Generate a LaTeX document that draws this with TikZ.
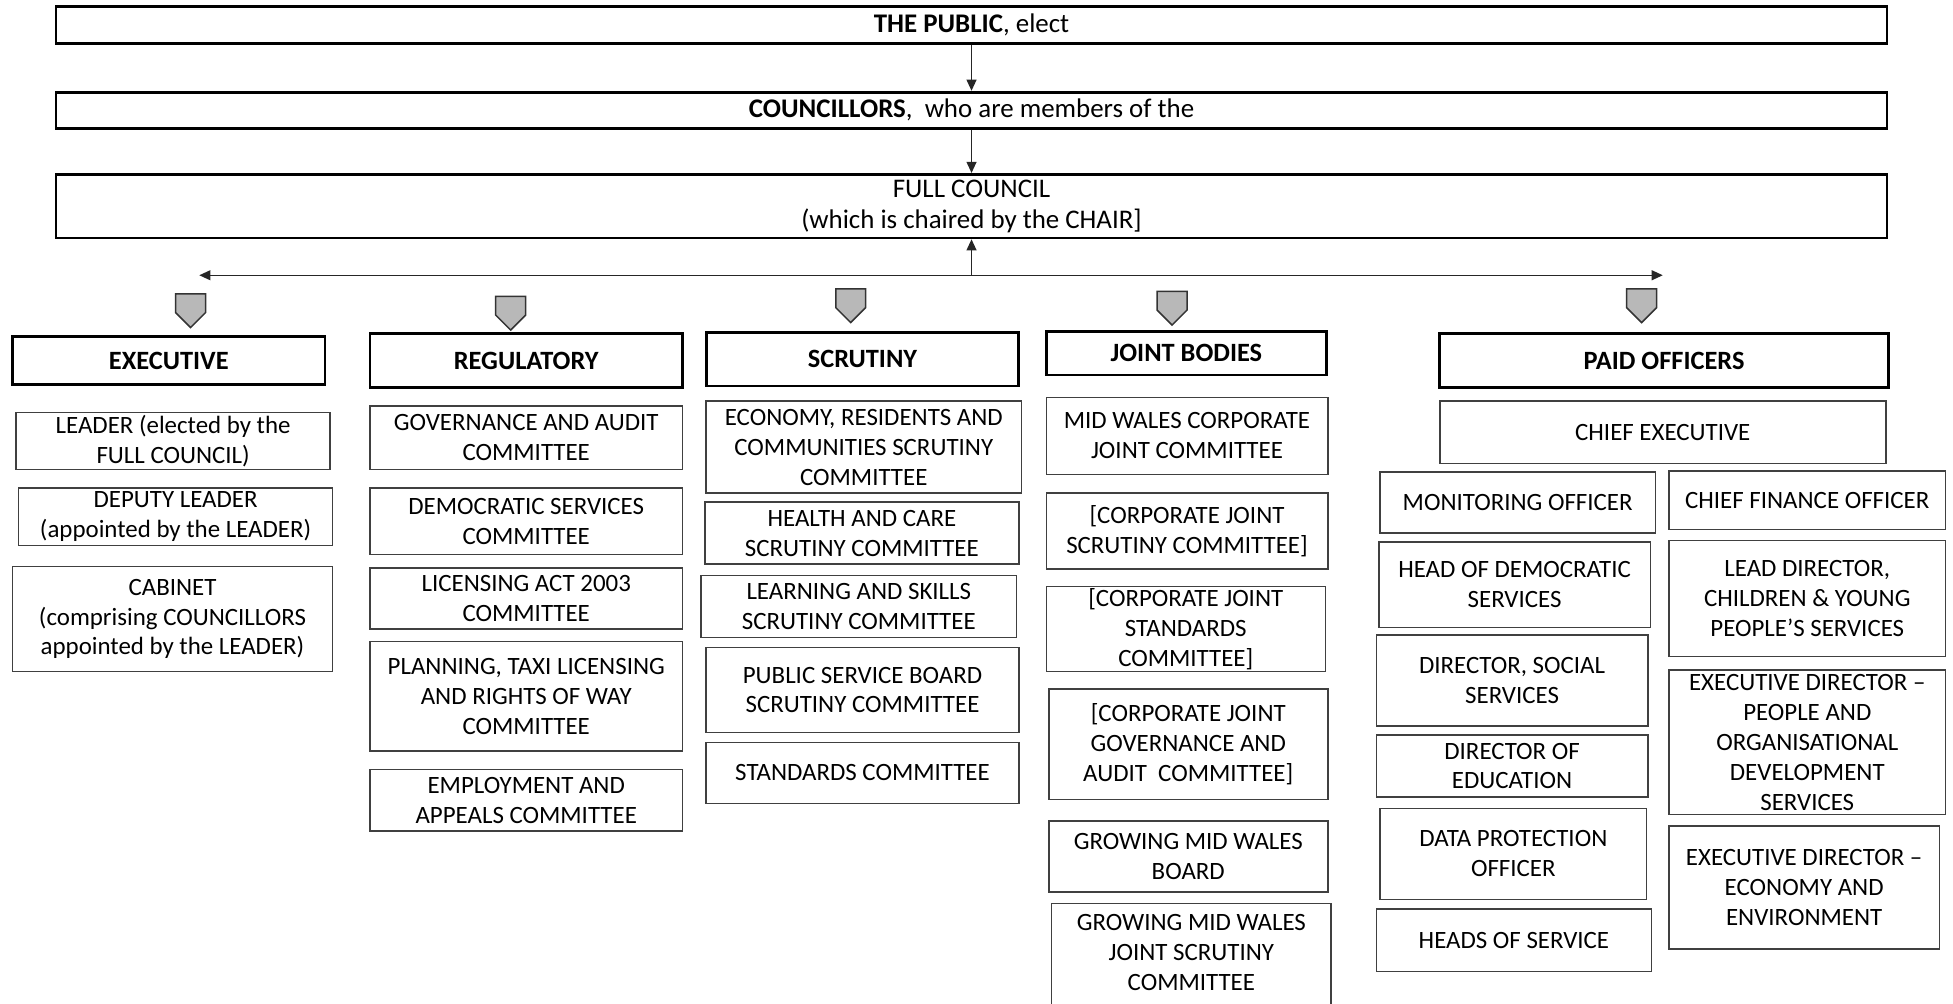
\documentclass[tikz,border=0pt]{standalone}
\usepackage{fontspec}
\setmainfont{Carlito}
\usetikzlibrary{arrows.meta}
\tikzset{
  itembox/.style={draw=black!75, line width=0.6pt, align=center, inner sep=0pt,
    font=\fontsize{10}{12}\selectfont},
  openbox/.style={itembox, draw=none},
  boxline/.style={draw=black!75, line width=0.6pt},
  headbox/.style={draw=black, line width=1.1pt, align=center, inner sep=0pt,
    font=\fontsize{10.6}{12.5}\selectfont\bfseries},
  topbox/.style={draw=black, line width=1.1pt, align=center, inner sep=0pt,
    font=\fontsize{10.8}{12.5}\selectfont},
  marker/.style={draw=black!80, fill=black!28, line width=0.6pt, line join=miter},
  conn/.style={draw=black!85, line width=0.6pt},
  tip/.style={-{Triangle[length=4.5pt,width=4pt]}}
}
\newcommand\bx[7]{%
  \node[#1, minimum width={(#5-#3)*0.5pt}, minimum height={(#6-#4)*0.5pt}] (#2)
    at ({(#3+#5)/2},{(#4+#6)/2}) {#7};}
\newcommand\mrk[2]{%
  \path[marker] (#1-12,#2) -- (#1+12,#2) -- (#1+12,#2+15) -- (#1,#2+27) -- (#1-12,#2+15) -- cycle;}
\begin{document}
\begin{tikzpicture}[x=0.5pt,y=-0.5pt]
\path[use as bounding box] (0,0) rectangle (1568,806);
\clip (0,0) rectangle (1568,806);
% top
\bx{topbox}{public}{45}{5}{1515}{35}{\textbf{THE PUBLIC}, elect}
\bx{topbox}{councillors}{45}{74}{1515}{103}{\textbf{COUNCILLORS},\ \ who are members of the}
\bx{topbox}{full}{45}{140}{1515}{191}{FULL COUNCIL\\(which is chaired by the CHAIR]}
\draw[conn,tip] (public) -- (councillors);
\draw[conn,tip] (councillors) -- (full);
\coordinate (hub) at (780,221);
\coordinate (hl) at (160,221);
\coordinate (hr) at (1335,221);
\draw[conn,tip] (hub) -- (hl);
\draw[conn,tip] (hub) -- (hr);
\draw[conn,tip] (hub) -- (full.south);
% markers
\mrk{153}{236}
\mrk{410}{238}
\mrk{683}{232}
\mrk{941}{234}
\mrk{1318}{232}
% headers
\bx{headbox}{exec}{10}{270}{261}{309}{EXECUTIVE}
\bx{headbox}{reg}{297}{268}{548}{311}{REGULATORY}
\bx{headbox}{scr}{567}{267}{818}{310}{SCRUTINY}
\bx{headbox}{joint}{840}{266}{1065}{301}{JOINT BODIES}
\bx{headbox}{paid}{1156}{268}{1516}{311}{PAID OFFICERS}
% executive
\bx{itembox}{leader}{13}{331}{265}{377}{LEADER (elected by the\\FULL COUNCIL)}
\bx{itembox}{deputy}{15}{392}{267}{438}{DEPUTY LEADER\\(appointed by the LEADER)}
\bx{itembox}{cabinet}{10}{455}{267}{539}{CABINET\\(comprising COUNCILLORS\\appointed by the LEADER)}
% regulatory
\bx{itembox}{gov}{297}{326}{548}{377}{GOVERNANCE AND AUDIT\\COMMITTEE}
\bx{itembox}{dem}{297}{392}{548}{445}{DEMOCRATIC SERVICES\\COMMITTEE}
\bx{itembox}{lic}{297}{456}{548}{505}{LICENSING ACT 2003\\COMMITTEE}
\bx{itembox}{plan}{297}{515}{548}{603}{PLANNING, TAXI LICENSING\\AND RIGHTS OF WAY\\COMMITTEE}
\bx{itembox}{emp}{297}{618}{548}{667}{EMPLOYMENT AND\\APPEALS COMMITTEE}
% scrutiny
\bx{itembox}{econ}{567}{322}{820}{396}{ECONOMY, RESIDENTS AND\\COMMUNITIES SCRUTINY\\COMMITTEE}
\bx{itembox}{health}{566}{403}{818}{453}{HEALTH AND CARE\\SCRUTINY COMMITTEE}
\bx{itembox}{learn}{563}{462}{816}{512}{LEARNING AND SKILLS\\SCRUTINY COMMITTEE}
\bx{itembox}{psb}{567}{520}{818}{588}{PUBLIC SERVICE BOARD\\SCRUTINY COMMITTEE}
\bx{itembox}{std}{567}{596}{818}{645}{STANDARDS COMMITTEE}
% joint bodies
\bx{itembox}{mwcjc}{840}{319}{1066}{381}{MID WALES CORPORATE\\JOINT COMMITTEE}
\bx{itembox}{cjsc}{840}{396}{1066}{457}{[CORPORATE JOINT\\SCRUTINY COMMITTEE]}
\bx{itembox}{cjstd}{840}{471}{1064}{539}{[CORPORATE JOINT\\STANDARDS\\COMMITTEE]}
\bx{itembox}{cjgac}{842}{553}{1066}{642}{[CORPORATE JOINT\\GOVERNANCE AND\\AUDIT\ \ COMMITTEE]}
\bx{itembox}{gmwb}{842}{659}{1066}{716}{GROWING MID WALES\\BOARD}
\bx{openbox}{gmwjsc}{845}{726}{1068}{804}{GROWING MID WALES\\JOINT SCRUTINY\\COMMITTEE}
\draw[boxline] ([yshift=-20pt]gmwjsc.south west) -- (gmwjsc.north west) -- (gmwjsc.north east) -- ([yshift=-20pt]gmwjsc.south east);
% paid officers
\bx{itembox}{ce}{1156}{322}{1514}{372}{CHIEF EXECUTIVE}
\bx{itembox}{mo}{1108}{379}{1329}{428}{MONITORING OFFICER}
\bx{itembox}{cfo}{1340}{378}{1562}{425}{CHIEF FINANCE OFFICER}
\bx{itembox}{hds}{1107}{435}{1325}{504}{HEAD OF DEMOCRATIC\\SERVICES}
\bx{itembox}{ldc}{1340}{434}{1562}{527}{LEAD DIRECTOR,\\CHILDREN \& YOUNG\\PEOPLE’S SERVICES}
\bx{itembox}{dss}{1105}{510}{1323}{583}{DIRECTOR, SOCIAL\\SERVICES}
\bx{itembox}{edpod}{1340}{538}{1562}{654}{EXECUTIVE DIRECTOR –\\PEOPLE AND\\ORGANISATIONAL\\DEVELOPMENT\\SERVICES}
\bx{itembox}{doe}{1105}{590}{1323}{640}{DIRECTOR OF\\EDUCATION}
\bx{itembox}{dpo}{1108}{649}{1322}{722}{DATA PROTECTION\\OFFICER}
\bx{itembox}{edee}{1340}{663}{1557}{762}{EXECUTIVE DIRECTOR –\\ECONOMY AND\\ENVIRONMENT}
\bx{itembox}{hos}{1105}{730}{1326}{780}{HEADS OF SERVICE}
\end{tikzpicture}
\end{document}
